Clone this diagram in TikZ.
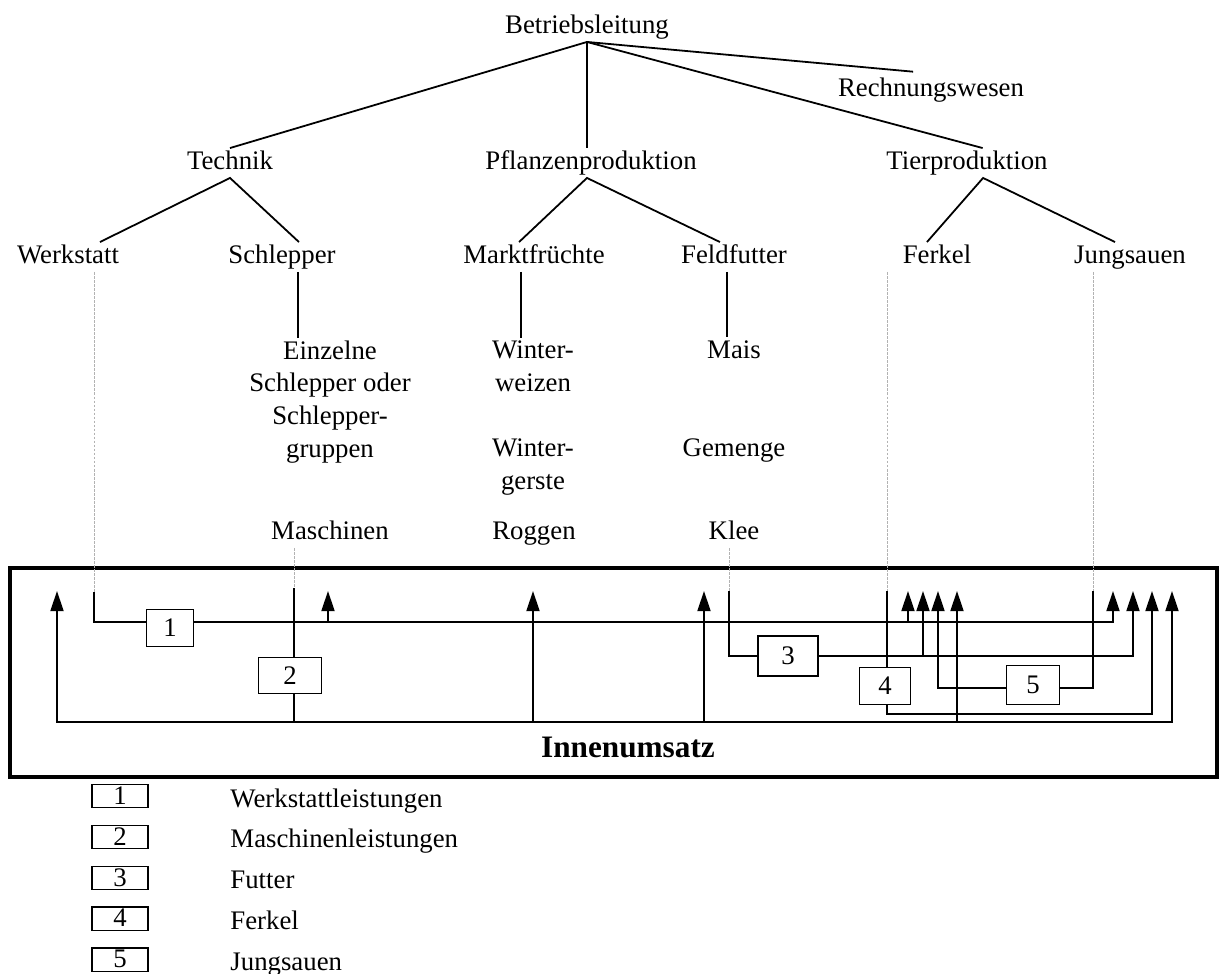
\documentclass[tikz,border=0pt]{standalone}
\usepackage{fontspec}
\setmainfont{Liberation Serif}
\usetikzlibrary{arrows.meta}

\begin{document}
\begin{tikzpicture}[
    x=0.448pt, y=-0.448pt,
    font=\fontsize{12}{14.6}\selectfont,
    orgtext/.style={inner sep=1pt, text height=8.5pt, text depth=2.5pt},
    orgblock/.style={inner sep=1pt, align=center, anchor=north},
    treeline/.style={line width=0.8pt},
    flowline/.style={line width=0.9pt, line cap=rect},
    flowarrow/.style={flowline, -{Triangle[length=9pt,width=5.8pt]}},
    linkline/.style={gray!60, line width=0.4pt, dash pattern=on 1.2pt off 0.6pt},
    numbox/.style={draw, line width=0.6pt, fill=white, inner sep=0pt},
    keybox/.style={draw, line width=0.6pt, inner sep=0pt, text height=8pt,
        text depth=0.6pt, minimum width=25pt, minimum height=10.4pt},
]
\useasboundingbox (0,0) rectangle (1220,974);

% ============================================================
% ORGANISATION TREE
% ============================================================
\node[orgtext] (betrieb)   at (587,27)  {Betriebsleitung};
\node[orgtext] (rechnung)  at (931,90)  {Rechnungswesen};
\node[orgtext] (technik)   at (230,163) {Technik};
\node[orgtext] (pflanzen)  at (591,163) {Pflanzenproduktion};
\node[orgtext] (tier)      at (967,163) {Tierproduktion};
\node[orgtext] (werkstatt) at (68,257)  {Werkstatt};
\node[orgtext] (schlepper) at (282,257) {Schlepper};
\node[orgtext] (markt)     at (534,257) {Marktfrüchte};
\node[orgtext] (feld)      at (734,257) {Feldfutter};
\node[orgtext] (ferkel)    at (937,257) {Ferkel};
\node[orgtext] (jung)      at (1130,257) {Jungsauen};

\draw[treeline] (betrieb.south) -- (technik.north);
\draw[treeline] (betrieb.south) -- (betrieb.south |- pflanzen.north);
\draw[treeline] (betrieb.south) -- ([xshift=7pt]tier.north);
\draw[treeline] (betrieb.south) -- ([xshift=-8pt,yshift=1.5pt]rechnung.north);

\draw[treeline] ([xshift=14.3pt]werkstatt.north) -- (technik.south)
    -- ([xshift=7.6pt]schlepper.north);
\draw[treeline] ([xshift=-6.7pt]markt.north) -- ([xshift=-1.8pt]pflanzen.south)
    -- ([xshift=-6.3pt]feld.north);
\draw[treeline] ([xshift=-4.5pt]ferkel.north) -- ([xshift=7.2pt]tier.south)
    -- ([xshift=-6.7pt]jung.north);

% cost objects below the branches
\node[orgblock] (einzeln) at (330,338) {Einzelne\\Schlepper oder\\Schlepper-\\gruppen};
\node[orgblock] (weizen)  at (533,338) {Winter-\\weizen};
\node[orgblock] (gerste)  at (533,436) {Winter-\\gerste};
\node[orgtext] (mais)      at (734,352) {Mais};
\node[orgtext] (gemenge)   at (734,450) {Gemenge};
\node[orgtext] (maschinen) at (330,533) {Maschinen};
\node[orgtext] (roggen)    at (534,533) {Roggen};
\node[orgtext] (klee)      at (734,533) {Klee};

\draw[treeline] ([xshift=7pt]schlepper.south)
    -- ([xshift=7pt]schlepper.south |- einzeln.north);
\draw[treeline] ([xshift=-5.8pt]markt.south)
    -- ([xshift=-5.8pt]markt.south |- weizen.north);
\draw[treeline] ([xshift=-3.1pt]feld.south) -- ([xshift=-3.1pt]feld.south |- mais.north);

% ============================================================
% INNENUMSATZ
% ============================================================
\draw[line width=1.35pt] (10,568) rectangle (1217,777);
\node[font=\fontsize{14}{17}\selectfont\bfseries] (innen) at (628,747) {Innenumsatz};

% entry points and line levels
\coordinate (wIn) at (94,593);
\coordinate (mIn) at (294,589);
\coordinate (kIn) at (729,592);
\coordinate (fIn) at (887,592);
\coordinate (jIn) at (1093,592);
\coordinate (lvA) at (0,622);
\coordinate (lvB) at (0,722);
\coordinate (lvD) at (0,714);
\coordinate (lvE) at (0,688);

\draw[linkline] (wIn |- werkstatt.south) -- (wIn);
\draw[linkline] (mIn |- maschinen.south) -- (mIn);
\draw[linkline] (kIn |- klee.south) -- (kIn);
\draw[linkline] (fIn |- ferkel.south) -- (fIn);
\draw[linkline] (jIn |- jung.south) -- (jIn);

% arrow tips
\foreach \n/\x in {A1/328, A2/908, A3/1113, B1/57, B2/533, B3/704, B4/957,
                   B5/1172, C1/923, C2/1133, D/1152, E/938}
    \coordinate (t\n) at (\x,591);

\node[numbox, minimum width=20.9pt, minimum height=16.7pt] (box1) at (170,628) {1};
\node[numbox, minimum width=28.4pt, minimum height=16pt]   (box2) at (290,675.5) {2};
\node[numbox, minimum width=26.9pt, minimum height=17.8pt] (box3) at (788,656) {3};
\node[numbox, minimum width=23pt,   minimum height=16.6pt] (box4) at (885,686) {4};
\node[numbox, minimum width=23.9pt, minimum height=17.5pt] (box5) at (1033,685) {5};

% Werkstattleistungen
\draw[flowline] (wIn) |- (box1.west |- lvA);
\draw[flowarrow] (box1.east |- lvA) -| (tA3);
\foreach \t in {tA1,tA2}
    \draw[flowarrow] (\t |- lvA) -- (\t);

% Maschinenleistungen
\draw[flowline] (mIn) -- (box2.north -| mIn);
\draw[flowline] (box2.south -| mIn) -- (mIn |- lvB);
\draw[flowarrow] (tB5 |- lvB) -- (tB1 |- lvB) -- (tB1);
\foreach \t in {tB2,tB3,tB4,tB5}
    \draw[flowarrow] (\t |- lvB) -- (\t);

% Futter
\draw[flowline] (kIn) |- (box3.west);
\draw[flowarrow] (box3.east) -| (tC2);
\draw[flowarrow] (tC1 |- box3.east) -- (tC1);

% Ferkel
\draw[flowline] (fIn) -- (box4.north -| fIn);
\draw[flowarrow] (box4.south -| fIn) |- (tD |- lvD) -- (tD);

% Jungsauen
\draw[flowline] (jIn) |- (box5.east |- lvE);
\draw[flowarrow] (box5.west |- lvE) -| (tE);

% ============================================================
% LEGEND
% ============================================================
\foreach \n/\txt [count=\i from 0] in {1/Werkstattleistungen,
        2/Maschinenleistungen, 3/Futter, 4/Ferkel, 5/Jungsauen} {
    \node[keybox] (key\n) at (120,{796+40.9*\i}) {\n};
    \node[anchor=base west, inner sep=0pt] (keytext\n) at (230,{807+40.9*\i}) {\txt};
}

\end{tikzpicture}
\end{document}
